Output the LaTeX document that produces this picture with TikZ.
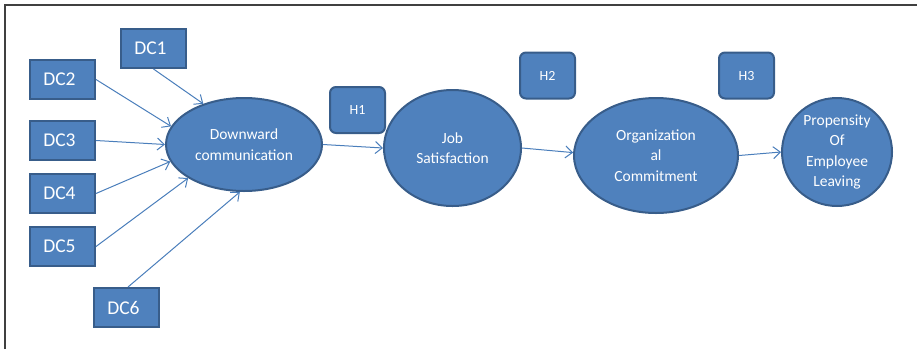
\documentclass[tikz,border=0pt]{standalone}
\usepackage{fontspec}
\setmainfont{Carlito}
\usetikzlibrary{shapes.geometric,arrows.meta}
\definecolor{fillblue}{HTML}{4F81BD}
\definecolor{edgeblue}{HTML}{385D8A}
\definecolor{lineblue}{HTML}{4A7EBB}
\definecolor{framegray}{HTML}{404040}
\begin{document}
\begin{tikzpicture}[x=1pt,y=-1pt,
  dcbox/.style={draw=edgeblue,fill=fillblue,line width=2pt,text=white,
    minimum width=65pt,minimum height=39pt,inner sep=0pt,font=\fontsize{19.5}{22}\selectfont},
  hbox/.style={draw=edgeblue,fill=fillblue,line width=2pt,text=white,rounded corners=6pt,
    minimum width=55pt,minimum height=46pt,inner sep=0pt,font=\fontsize{14}{17}\selectfont},
  construct/.style={ellipse,draw=edgeblue,fill=fillblue,line width=2pt,text=white,
    inner sep=0pt,align=center,font=\fontsize{15.5}{20.5}\selectfont},
  link/.style={draw=lineblue,line width=1pt,-{Straight Barb[length=7pt,width=12pt]}}
]
\useasboundingbox (0,0) rectangle (917,349);
\draw[framegray,line width=1.5pt] (5,349) -- (5,5) -- (917,5);

\node[dcbox] (dc1) at (153.5,48.5) {\hspace*{-6pt}DC1};
\node[dcbox] (dc2) at (62.5,79.5) {\hspace*{-6pt}DC2};
\node[dcbox] (dc3) at (62.5,140.5) {\hspace*{-6pt}DC3};
\node[dcbox] (dc4) at (62.5,193.5) {\hspace*{-6pt}DC4};
\node[dcbox] (dc5) at (62.5,246.5) {\hspace*{-6pt}DC5};
\node[dcbox] (dc6) at (126.5,307.5) {\hspace*{-6pt}DC6};

\node[construct,minimum width=156pt,minimum height=93pt] (dw) at (244,144.5) {Downward\\communication};
\node[construct,minimum width=137pt,minimum height=116pt] (job) at (452.5,148) {Job\\Satisfaction};
\node[construct,minimum width=164pt,minimum height=115pt] (org) at (656,155.5) {Organization\\al\\Commitment};
\node[construct,minimum width=110pt,minimum height=108pt] (prop) at (837,152) {Propensity\\Of\\Employee\\Leaving};

\node[hbox] (h1) at (357.5,110) {H1};
\node[hbox] (h2) at (547.5,75.5) {H2};
\node[hbox] (h3) at (746.5,75.5) {H3};

\draw[link] (dc1.south) -- (dw.135);
\draw[link] (dc2.east) -- (dw.166);
\draw[link] (dc3.east) -- (dw.180);
\draw[link] (dc4.east) -- (dw.193);
\draw[link] (dc5.east) -- (dw.211);
\draw[link] ([xshift=1.5pt]dc6.north) -- (dw.265);
\draw[link] (dw.east) -- (job.west);
\draw[link] (job.east) -- (org.178);
\draw[link] (org.east) -- (prop.west);
\end{tikzpicture}
\end{document}
